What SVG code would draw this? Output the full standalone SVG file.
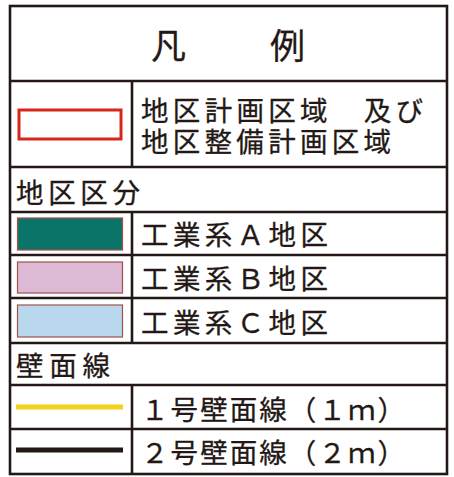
<svg xmlns="http://www.w3.org/2000/svg" width="454" height="477" viewBox="0 0 454 477">
<style>
.ln{stroke:#231815;stroke-width:2.6;fill:none}
.t{font-family:"Noto Sans CJK JP","Noto Sans",sans-serif;font-size:27.5px;fill:#231815;stroke:#231815;stroke-width:0.3}
.sw{stroke:#a0524a;stroke-width:1.2}
</style>
<rect width="454" height="477" fill="#fff"/>
<g id="frame">
<rect class="ln" x="10" y="6" width="437" height="468"/>
<line class="ln" x1="10" y1="81" x2="447" y2="81"/>
<line class="ln" x1="10" y1="167" x2="447" y2="167"/>
<line class="ln" x1="10" y1="212" x2="447" y2="212"/>
<line class="ln" x1="10" y1="255" x2="447" y2="255"/>
<line class="ln" x1="10" y1="298" x2="447" y2="298"/>
<line class="ln" x1="10" y1="343" x2="447" y2="343"/>
<line class="ln" x1="10" y1="385" x2="447" y2="385"/>
<line class="ln" x1="10" y1="429" x2="447" y2="429"/>
<line class="ln" x1="132" y1="81" x2="132" y2="167"/>
<line class="ln" x1="132" y1="212" x2="132" y2="343"/>
<line class="ln" x1="132" y1="385" x2="132" y2="474"/>
</g>
<g id="title"><text class="t" style="font-size:35px" x="151 270" y="59">凡例</text></g>
<g id="area">
<rect x="19" y="110" width="102" height="29" fill="#fff" stroke="#d9261c" stroke-width="3"/>
<text class="t" x="141" y="121" textLength="282" lengthAdjust="spacing">地区計画区域　及び</text>
<text class="t" x="141" y="152" textLength="250" lengthAdjust="spacing">地区整備計画区域</text>
</g>
<g id="zone-head"><text class="t" x="16" y="203" textLength="124" lengthAdjust="spacing">地区区分</text></g>
<g id="zone-a">
<rect class="sw" x="17.5" y="218" width="105" height="32" fill="#0b7468"/>
<text class="t" x="141" y="245" textLength="187" lengthAdjust="spacing">工業系Ａ地区</text>
</g>
<g id="zone-b">
<rect class="sw" x="17.5" y="262" width="105" height="31" fill="#dcb9d5"/>
<text class="t" x="141" y="289" textLength="187" lengthAdjust="spacing">工業系Ｂ地区</text>
</g>
<g id="zone-c">
<rect class="sw" x="17.5" y="305" width="105" height="32" fill="#b9d8ee"/>
<text class="t" x="141" y="333" textLength="187" lengthAdjust="spacing">工業系Ｃ地区</text>
</g>
<g id="wall-head"><text class="t" x="16" y="376" textLength="94" lengthAdjust="spacing">壁面線</text></g>
<g id="connectors">
<line x1="16" y1="407" x2="123" y2="407" stroke="#f2d21b" stroke-width="5"/>
<line x1="16" y1="450" x2="123" y2="450" stroke="#231815" stroke-width="5"/>
</g>
<g id="wall-1"><text class="t" x="141" y="420" textLength="264" lengthAdjust="spacing">１号壁面線（１ｍ）</text></g>
<g id="wall-2"><text class="t" x="141" y="463" textLength="264" lengthAdjust="spacing">２号壁面線（２ｍ）</text></g>
</svg>
